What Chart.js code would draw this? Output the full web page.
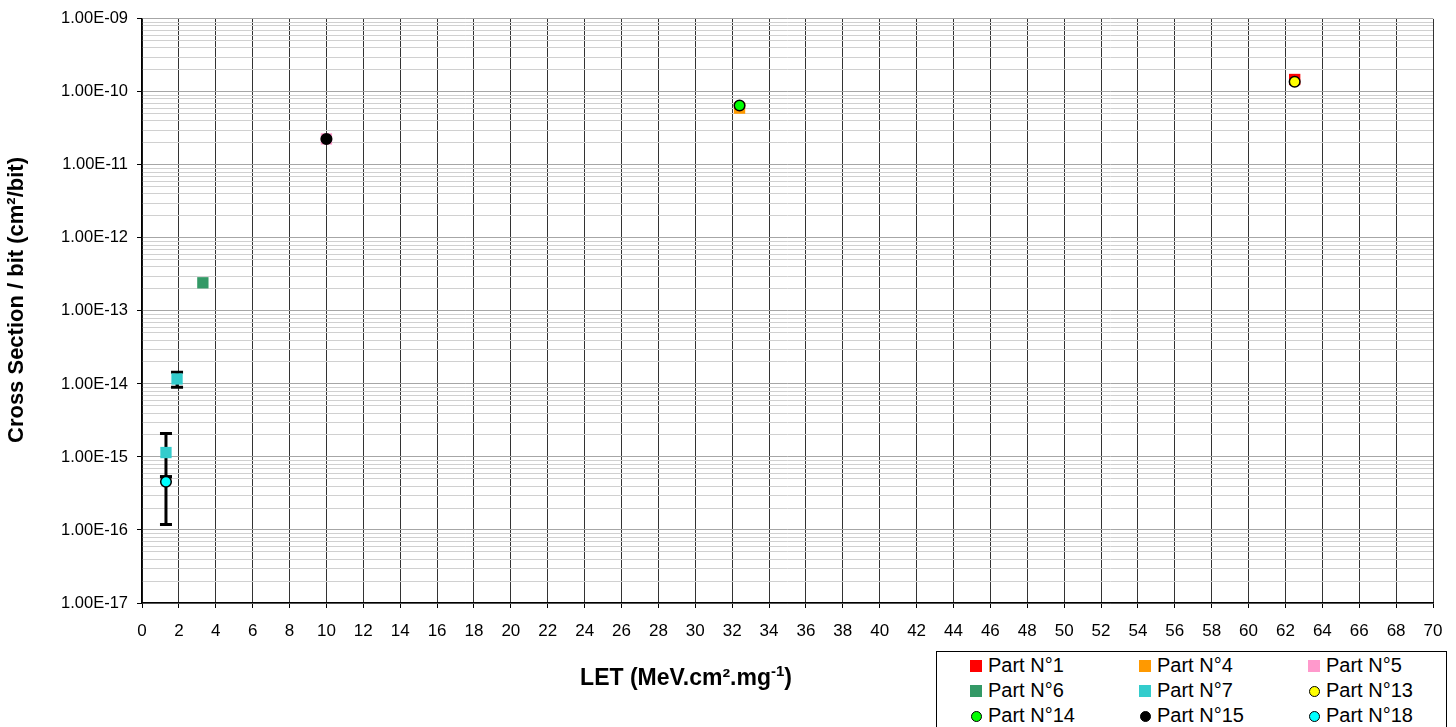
<!DOCTYPE html>
<html><head><meta charset="utf-8">
<script src="https://cdn.jsdelivr.net/npm/chart.js@4/dist/chart.umd.min.js"></script>
<style>
html,body{margin:0;padding:0;background:#fff;}
#wrap{position:relative;width:1456px;height:727px;overflow:hidden;}
#c{position:absolute;left:0;top:0;}
#legend{position:absolute;left:936px;top:651px;width:511px;height:90px;border:1px solid #000;box-sizing:border-box;background:#fff;font:20px "Liberation Sans",Arial,sans-serif;color:#000;}
.item{position:absolute;height:24px;line-height:24px;white-space:nowrap;}
.mk{display:inline-block;width:12px;height:12px;vertical-align:0px;margin-right:6px;box-sizing:border-box;}
.mk.circ{width:11px;height:11px;border-radius:50%;border:1.5px solid #000;margin-left:0.5px;margin-right:6.5px;}
</style></head>
<body><div id="wrap"><canvas id="c" width="1456" height="727"></canvas><div id="legend"></div></div>
<script>
// ---- data (LET in MeV.cm2/mg, cross section in cm2/bit) ----
const seriesNames = ['Part N°1','Part N°4','Part N°5','Part N°6','Part N°7','Part N°13','Part N°14','Part N°15','Part N°18'];
const part1LET = [62.5];  const part1XS = [1.48e-10];
const part4LET = [32.4];  const part4XS = [6.0e-11];
const part5LET = [10.0];  const part5XS = [2.27e-11];
const part6LET = [3.3];   const part6XS = [2.43e-13];
const part7LET = [1.3, 1.9]; const part7XS = [1.15e-15, 1.17e-14];
const part7ErrLow = [5.35e-16, 9.0e-15]; const part7ErrHigh = [2.1e-15, 1.45e-14];
const part13LET = [62.5]; const part13XS = [1.38e-10];
const part14LET = [32.4]; const part14XS = [6.5e-11];
const part15LET = [10.0]; const part15XS = [2.26e-11];
const part18LET = [1.3];  const part18XS = [4.57e-16];
const part18ErrLow = [1.19e-16]; const part18ErrHigh = [5.35e-16];

const xTicks = [0,2,4,6,8,10,12,14,16,18,20,22,24,26,28,30,32,34,36,38,40,42,44,46,48,50,52,54,56,58,60,62,64,66,68,70];
const yDecades = [1e-17,1e-16,1e-15,1e-14,1e-13,1e-12,1e-11,1e-10,1e-9];
const yDecadeLabels = ['1.00E-17','1.00E-16','1.00E-15','1.00E-14','1.00E-13','1.00E-12','1.00E-11','1.00E-10','1.00E-09'];
const yMinorMultipliers = [2,3,4,5,6,7,8,9];

const FAMILY = '"Liberation Sans", Arial, sans-serif';
const pts = (xs, ys) => xs.map((x, i) => ({x: x, y: ys[i]}));

function sq(label, xs, ys, color){
  return {label, data: pts(xs, ys), pointStyle:'rect', pointRadius:8, pointHoverRadius:8,
    backgroundColor:color, borderColor:color, borderWidth:0, showLine:false, order:2, _shape:'rect'};
}
function ci(label, xs, ys, color){
  return {label, data: pts(xs, ys), pointStyle:'circle', pointRadius:5.3, pointHoverRadius:5.3,
    backgroundColor:color, borderColor:'#000', borderWidth:1.5, showLine:false, order:1, _shape:'circle'};
}

const datasets = [
  sq(seriesNames[0], part1LET, part1XS, '#ff0000'),
  sq(seriesNames[1], part4LET, part4XS, '#ff9900'),
  sq(seriesNames[2], part5LET, part5XS, '#ff99cc'),
  sq(seriesNames[3], part6LET, part6XS, '#339966'),
  sq(seriesNames[4], part7LET, part7XS, '#33cccc'),
  ci(seriesNames[5], part13LET, part13XS, '#ffff00'),
  ci(seriesNames[6], part14LET, part14XS, '#00ff00'),
  ci(seriesNames[7], part15LET, part15XS, '#000000'),
  ci(seriesNames[8], part18LET, part18XS, '#00ffff')
];
datasets[4]._errLow = part7ErrLow; datasets[4]._errHigh = part7ErrHigh;
datasets[8]._errLow = part18ErrLow; datasets[8]._errHigh = part18ErrHigh;

const errorBars = {
  id:'errorBars',
  beforeDatasetsDraw(chart){
    const ctx = chart.ctx, xs = chart.scales.x, ys = chart.scales.y;
    ctx.save();
    ctx.strokeStyle = '#000'; ctx.lineWidth = 3; ctx.lineCap = 'butt';
    chart.data.datasets.forEach(ds => {
      if (!ds._errLow) return;
      ds.data.forEach((p, i) => {
        const px = xs.getPixelForValue(p.x);
        const yl = ys.getPixelForValue(ds._errLow[i]);
        const yh = ys.getPixelForValue(ds._errHigh[i]);
        ctx.beginPath();
        ctx.moveTo(px, yl); ctx.lineTo(px, yh);
        ctx.moveTo(px - 6, yl); ctx.lineTo(px + 6, yl);
        ctx.moveTo(px - 6, yh); ctx.lineTo(px + 6, yh);
        ctx.stroke();
      });
    });
    ctx.restore();
  }
};

const axisTitles = {
  id:'axisTitles',
  afterDraw(chart){
    const ctx = chart.ctx;
    ctx.save();
    ctx.fillStyle = '#000';
    // x title with superscript
    const big = 'bold 23px ' + FAMILY, small = 'bold 15px ' + FAMILY;
    const t1 = 'LET (MeV.cm².mg', t2 = '-1', t3 = ')';
    ctx.font = big; const w1 = ctx.measureText(t1).width, w3 = ctx.measureText(t3).width;
    ctx.font = small; const w2 = ctx.measureText(t2).width;
    const total = w1 + w2 + w3;
    let x = 686 - total / 2; const y = 685;
    ctx.textBaseline = 'alphabetic'; ctx.textAlign = 'left';
    ctx.font = big; ctx.fillText(t1, x, y); x += w1;
    ctx.font = small; ctx.fillText(t2, x, y - 9); x += w2;
    ctx.font = big; ctx.fillText(t3, x, y);
    // y title
    ctx.translate(17, 300);
    ctx.rotate(-Math.PI / 2);
    ctx.font = 'bold 22px ' + FAMILY; ctx.textAlign = 'center'; ctx.textBaseline = 'middle';
    ctx.fillText('Cross Section / bit (cm²/bit)', 0, 0);
    ctx.restore();
  }
};

const chart = new Chart(document.getElementById('c'), {
  type:'scatter',
  data:{datasets},
  options:{
    responsive:false, animation:false, events:[],
    layout:{padding:{top:15, right:23, left:0, bottom:0}},
    plugins:{legend:{display:false}, tooltip:{enabled:false}},
    scales:{
      x:{
        type:'linear', min:0, max:70,
        afterFit(s){ s.height = 124; },
        afterBuildTicks(s){ s.ticks = xTicks.map(v => ({value:v})); },
        ticks:{autoSkip:false, maxRotation:0, minRotation:0, padding:13, color:'#000', font:{family:FAMILY, size:17}},
        grid:{color:'#333333', lineWidth:1, tickLength:5, tickColor:'#000', tickWidth:1},
        border:{color:'#000', width:1.5}
      },
      y:{
        type:'logarithmic', min:1e-17, max:1e-9, z:-1,
        afterFit(s){ s.width = 142; },
        afterBuildTicks(s){
          const t = [];
          yDecades.forEach((d, k) => {
            t.push({value:d, major:true, lbl:yDecadeLabels[k]});
            if (k < yDecades.length - 1) yMinorMultipliers.forEach(m => t.push({value:m * d, major:false, lbl:''}));
          });
          s.ticks = t;
        },
        ticks:{autoSkip:false, padding:9, color:'#000', font:{family:FAMILY, size:16.5},
          callback(v, i, ticks){ return ticks[i].lbl; }},
        grid:{
          color: c => (c.tick && c.tick.major) ? '#a6a6a6' : '#d0d0d0',
          lineWidth:1, tickLength:5,
          tickColor: c => (c.tick && c.tick.major) ? '#000' : 'rgba(0,0,0,0)'
        },
        border:{color:'#000', width:1.5}
      }
    }
  },
  plugins:[errorBars, axisTitles]
});

// HTML legend built from the chart's datasets
const legend = document.getElementById('legend');
const colX = [33, 202, 371], rowY = [1, 26, 51];
chart.data.datasets.forEach((ds, i) => {
  const it = document.createElement('div');
  it.className = 'item';
  it.style.left = colX[i % 3] + 'px';
  it.style.top = rowY[Math.floor(i / 3)] + 'px';
  const mk = document.createElement('span');
  mk.className = 'mk' + (ds._shape === 'circle' ? ' circ' : '');
  mk.style.background = ds.backgroundColor;
  it.appendChild(mk);
  it.appendChild(document.createTextNode(ds.label));
  legend.appendChild(it);
});
</script></body></html>
